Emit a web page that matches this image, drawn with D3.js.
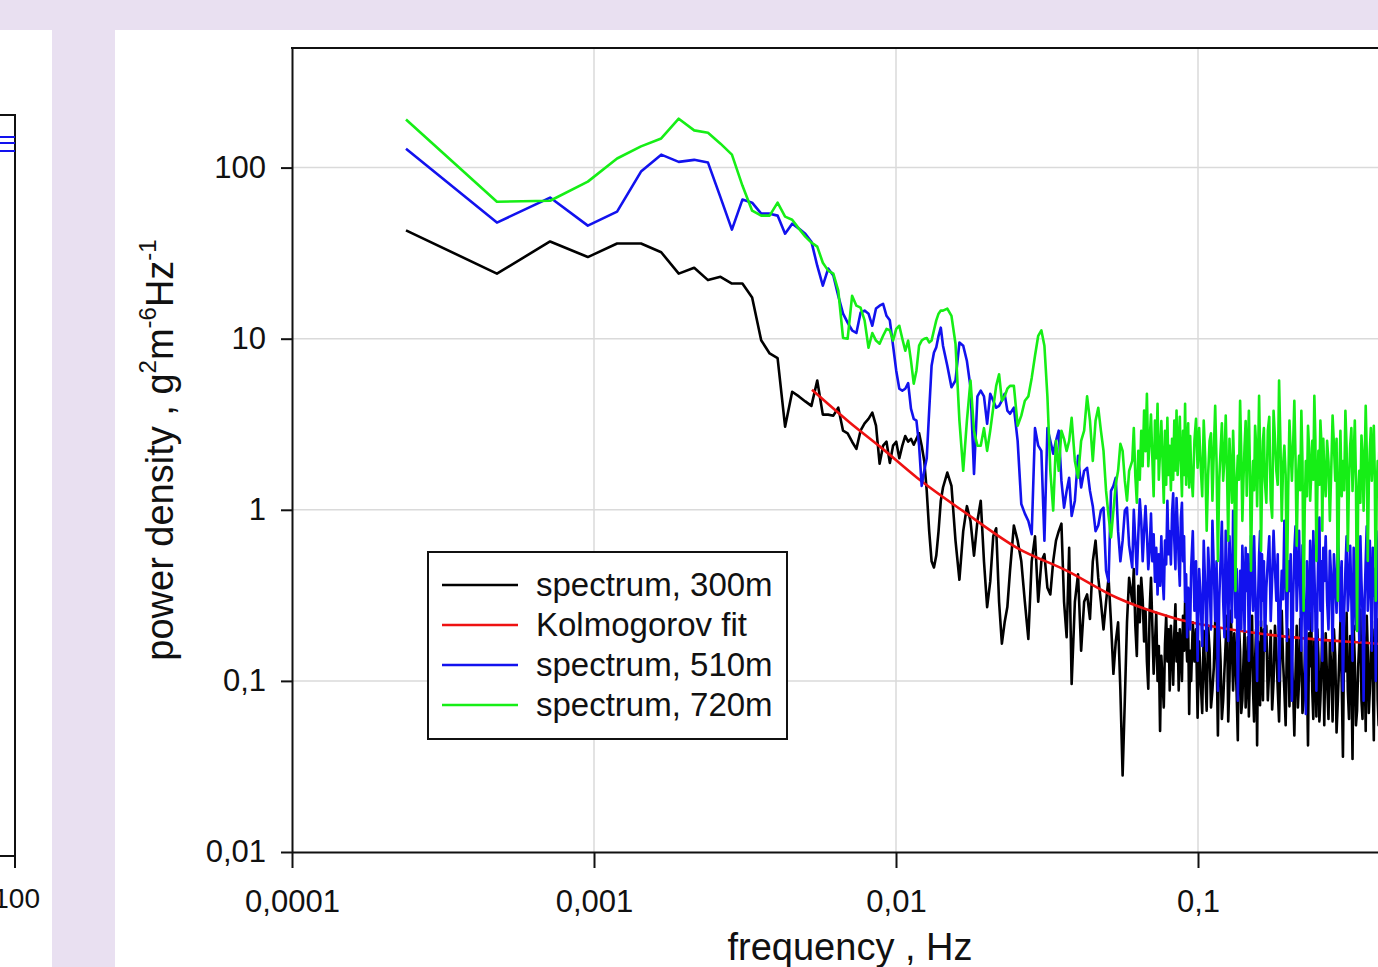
<!DOCTYPE html>
<html><head><meta charset="utf-8">
<script src="https://cdn.jsdelivr.net/npm/d3@7"></script>
<style>
html,body{margin:0;padding:0;background:#e9e0f1;}
svg{display:block;}
text{font-family:"Liberation Sans",Arial,Helvetica,sans-serif;fill:#111;}
</style>
</head><body><script>
// ---------------- DATA ----------------
const DF = 0.0002385; // spectral resolution, Hz (frequency = bin * DF)
const bins = [1,2,3,4,5,6,7,8,9,10,11,12,13,14,15,16,17,18,19,20,21,22,23,24,25,26,27,28,29,30,
31,32,33,34,35,36,37,38,39,40,41,42,43,44,45,46,47,48,49,50,51,52,53,54,55,56,57,58,59,60,
62,64,66,68,70,72,74,76,78,80,82,84,86,88,90,92,94,96,98,100,
103,106,109,112,115,118,121,124,127,130,133,136,139,142,145,148,151,154,157,160,
164,168,172,176,180,184,188,192,196,200,204,208,212,216,220,224,228,232,236,240,244,248,
254,257,260,263,266,269,272,275,278,281,284,287,290,293,296,299,302,305,308,311,314,317,320,323,326,329,332,335,338,341,344,347,350,353,356,359,362,365,368,371,374,377,380,383,386,389,392,395,398,
403,408,413,418,423,428,433,438,443,448,453,458,463,468,473,478,483,488,493,498,503,508,513,518,523,528,533,538,543,548,553,558,563,568,573,578,583,588,593,598,603,608,613,618,623,628,633,638,643,648,653,658,663,668,673,678,683,688,693,698,
706,714,722,730,738,746,754,762,770,778,786,794,802,810,818,826,834,842,850,858,866,874,882,890,898,906,914,922,930,938,946,954,962,970,978,986,994,1002,1010,1018,1026,1034,1042,1050,1058,1066,1074,1082,1090,1098,
1110,1122,1134,1146,1158,1170,1182,1194,1206,1218,1230,1242,1254,1266,1278,1290,1302,1314,1326,1338,1350,1362,1374,1386,1398,1410,1422,1434,1446,1458,1470,1482,1494,1506,1518,1530,1542,1554,1566,1578,1590,1602,1614,1626,1638,1650,1662,1674,1686,1698];

const spectrum300 = [43,24,37,30,36,36,32,24,26,22,23,21,21,17.4,9.8,8.2,7.7,3.06,4.9,4.6,
4.3,4.05,5.7,3.6,3.6,3.55,3.95,2.9,2.8,2.5,2.27,2.9,3.2,3.4,3.7,3.1,1.86,2.37,2.5,1.88,
2.37,2.5,2.0,2.37,2.7,2.5,2.6,2.4,2.6,2.8,2.37,1.93,1.29,0.75,0.50,0.46,0.54,0.75,1.13,1.35,
1.65,1.38,0.66,0.39,0.75,1.05,0.86,0.54,0.86,1.13,0.50,0.27,0.38,0.70,0.78,0.29,0.165,0.22,0.27,0.44,
0.81,0.66,0.50,0.29,0.176,0.50,0.70,0.29,0.50,0.55,0.35,0.32,0.50,0.66,0.75,0.83,0.29,0.18,0.60,0.096,
0.29,0.42,0.15,0.29,0.32,0.23,0.50,0.66,0.40,0.29,0.20,0.29,0.40,0.22,0.11,0.17,0.22,0.088,0.028,0.077,0.22,0.40,
0.29,0.45,0.21,0.14,0.36,0.22,0.40,0.30,0.17,0.26,0.13,0.09,0.26,0.40,0.21,0.11,0.165,0.25,0.10,0.16,0.051,0.14,0.10,0.07,0.165,0.24,0.13,0.20,0.088,0.21,0.15,0.095,0.19,0.28,0.13,0.19,0.088,0.20,0.15,0.10,0.24,0.15,0.29,0.18,0.13,0.21,0.064,0.15,0.10,
0.22,0.13,0.20,0.061,0.17,0.10,0.065,0.196,0.11,0.067,0.21,0.15,0.07,0.088,0.12,0.224,0.15,0.048,0.20,0.131,0.06,0.077,0.115,0.171,0.24,0.058,0.10,0.257,0.16,0.088,0.19,0.131,0.085,0.045,0.21,0.15,0.065,0.077,0.13,0.196,0.07,0.10,0.18,0.062,0.11,0.171,0.24,0.088,0.058,0.131,0.20,0.042,0.17,0.114,0.072,0.224,0.12,0.077,0.2,0.15,
0.21,0.077,0.12,0.196,0.068,0.10,0.21,0.15,0.09,0.058,0.14,0.257,0.13,0.088,0.055,0.171,0.20,0.071,0.18,0.131,0.09,0.048,0.11,0.21,0.07,0.10,0.23,0.15,0.065,0.077,0.13,0.224,0.11,0.042,0.19,0.122,0.25,0.088,0.06,0.171,0.14,0.062,0.2,0.14,0.058,0.077,0.12,0.196,0.15,0.055,
0.19,0.10,0.06,0.171,0.12,0.058,0.2,0.14,0.05,0.077,0.13,0.224,0.1,0.036,0.2,0.114,0.25,0.088,0.06,0.183,0.12,0.035,0.21,0.131,0.055,0.067,0.12,0.171,0.26,0.077,0.06,0.21,0.13,0.051,0.24,0.15,0.065,0.088,0.14,0.224,0.1,0.045,0.2,0.131,0.23,0.077,0.055,0.171,0.2,0.088];

const spectrum510 = [129,47.7,66.8,45.8,55.3,94.8,119,108,111,107,67,43.4,65,62.4,53.8,53.8,52.4,41.1,47,44,
41.1,36.9,26.7,20.4,25.7,23.4,17.8,14,12.4,11.2,10.8,14.2,14.6,14,11.9,15,15.6,16,13.6,12.8,
9.1,6.5,5.1,4.97,5.1,5.5,3.9,3.4,3.32,2.37,1.38,1.69,2.0,3.8,6.95,8.3,8.9,10.4,11.6,9.1,
6.95,5.2,5.7,9.5,9.1,7.4,5.2,1.62,4.6,4.97,4.6,3.18,4.76,4.34,3.95,4.05,4.34,4.76,3.8,3.64,
3.95,2.53,1.08,0.95,0.86,0.72,3.0,2.37,2.21,0.66,3.0,2.53,2.13,2.53,2.9,1.48,1.03,1.29,1.54,0.92,
1.13,2.07,1.35,1.69,1.76,1.29,1.05,0.75,0.81,0.99,1.03,0.44,0.38,1.29,1.38,1.54,0.75,0.50,0.66,0.99,1.03,0.62,
0.46,1.0,0.66,0.42,0.72,1.15,0.86,0.5,0.75,1.05,0.72,0.45,0.58,0.95,0.50,0.72,0.38,0.6,0.32,0.55,0.36,0.7,0.40,0.3,0.66,0.48,1.13,0.55,0.75,0.48,0.95,1.25,0.66,0.45,1.17,0.8,0.50,0.36,0.90,1.1,0.50,0.7,0.29,0.42,0.18,0.35,0.29,0.2,0.46,
0.75,0.257,0.5,0.131,0.45,0.294,0.16,0.659,0.35,0.15,0.6,0.384,0.2,0.862,0.45,0.224,0.5,0.0875,0.3,0.503,0.85,0.294,0.18,0.754,0.4,0.171,0.7,0.41,0.22,0.985,0.5,0.235,0.45,0.0765,0.25,0.44,0.2,0.616,0.38,0.196,0.6,0.336,0.55,0.131,0.3,0.705,0.42,0.257,0.7,0.384,0.22,0.10,0.3,0.54,0.75,0.21,0.55,0.294,0.5,0.15,
0.35,0.503,0.7,0.224,0.4,0.754,0.45,0.294,0.55,0.10,0.25,0.44,0.3,0.862,0.4,0.171,0.5,0.336,0.55,0.0765,0.3,0.576,0.8,0.257,0.42,0.754,0.35,0.15,0.62,0.384,0.2,0.064,0.5,0.294,0.2,0.659,0.45,0.196,0.75,0.44,0.25,0.0875,0.3,0.616,0.9,0.257,0.5,0.131,0.6,0.384,
0.7,0.294,0.2,0.576,0.4,0.15,0.55,0.384,0.25,0.754,0.42,0.224,0.5,0.0875,0.25,0.44,0.7,0.257,0.35,0.616,0.3,0.131,0.6,0.336,0.2,0.862,0.45,0.171,0.7,0.384,0.25,0.0765,0.3,0.503,0.8,0.257,0.4,0.659,0.3,0.15,0.6,0.315,0.45,0.10,0.3,0.503,0.75,0.224,0.5,0.294];

const spectrum720 = [191,63.2,64,82.8,113,133,148,193,165,160,138,119,78.5,56,52.4,52.4,62.4,51.7,49.6,44,
39.5,36.4,34.5,27.8,25,24,19.1,10.1,10,17.8,15.6,15.2,12.8,8.85,10.8,9.75,9.35,10.4,11.4,11.2,
9.75,11.4,11.9,10,8.5,9.75,7.44,5.46,6.5,9.1,9.75,10,10.1,9.5,9.75,11.2,12.8,14,14.6,14.6,
15,13.6,9.35,3.32,1.69,3.32,5.7,2.9,2.37,2.37,3.0,2.21,2.9,3.95,5.3,6.2,4.34,4.6,5.1,5.3,
5.3,3.1,3.55,4.34,4.6,5.9,7.95,10.4,11.2,9.1,4.6,1.69,0.99,2.53,1.69,2.9,2.6,2.21,2.53,3.45,
1.93,1.54,2.53,2.9,4.6,3.32,1.93,3.32,3.95,2.9,2.21,1.29,0.92,0.69,0.99,1.42,1.69,2.43,2.21,1.48,1.13,1.69,
1.93,3.0,1.58,1.1,2.21,1.5,2.9,1.8,3.8,2.2,4.76,1.8,2.53,3.6,2.0,1.2,3.32,2.0,4.17,1.5,2.21,3.3,1.93,1.1,2.9,1.4,3.45,1.6,2.37,1.3,2.6,1.5,3.32,1.7,3.8,1.6,2.37,3.5,1.86,1.2,2.9,1.6,4.17,1.4,2.21,3.2,1.35,2.7,1.69,
1.2,2.53,3.4,1.76,3.0,1.81,1.2,3.32,2.0,0.754,1.6,2.53,2.8,1.13,2.2,4.05,1.9,0.503,1.5,2.21,3.2,1.48,2.0,3.55,1.7,0.659,2.6,1.69,1.1,2.9,1.6,0.336,1.4,2.07,1.5,4.34,2.2,0.862,1.5,2.37,3.3,1.21,2.2,3.79,1.7,0.44,1.2,1.93,1.3,3.1,2.4,1.05,2.0,4.64,2.2,0.576,1.4,2.53,3.0,1.48,
1.1,2.9,3.5,1.13,0.9,3.79,2.6,1.69,1.4,5.69,2.5,0.862,1.8,2.37,1.6,0.336,1.3,3.32,2.2,1.48,2.4,4.34,2.0,0.616,1.5,2.07,1.3,3.79,1.9,0.257,1.0,1.93,1.2,3.1,2.3,1.13,1.6,2.53,1.5,4.64,2.6,0.503,1.3,2.21,1.4,3.32,2.5,0.754,2.6,1.69,
1.2,2.53,1.9,0.862,1.7,3.55,2.4,1.48,2.6,0.294,1.4,2.9,1.2,1.93,1.3,3.79,2.3,0.576,1.5,2.37,3.0,1.29,2.0,3.32,1.5,0.196,1.2,1.69,1.1,2.72,2.1,0.987,1.8,4.05,2.2,0.503,1.4,2.21,3.0,1.48,2.0,3.1,1.6,0.294,1.3,1.93,1.2,2.9,2.0,1.13];

const fitFreq = [0.00527,0.00704,0.00885,0.01174,0.01718,0.02515,0.03684,0.0539,0.0826,0.1642,0.3914,0.5];
const fitVal  = [5.03,3.23,2.34,1.54,0.947,0.60,0.44,0.306,0.234,0.188,0.165,0.16];

const xTickValues = [0.0001,0.001,0.01,0.1];
const xTickLabels = ["0,0001","0,001","0,01","0,1"];
const yTickValues = [100,10,1,0.1,0.01];
const yTickLabels = ["100","10","1","0,1","0,01"];

const seriesNames = ["spectrum, 300m","Kolmogorov fit","spectrum, 510m","spectrum, 720m"];
const seriesColors = ["#000000","#ee1111","#1212ee","#16ee16"];

[spectrum300, spectrum510, spectrum720].forEach((a, i) => {
  if (a.length !== bins.length) console.error("length mismatch", i, a.length, bins.length);
});

// ---------------- DRAWING ----------------
const W = 1378, H = 967;
const svg = d3.select("body").append("svg").attr("width", W).attr("height", H);
svg.append("rect").attr("width", W).attr("height", H).attr("fill", "#e9e0f1");
svg.append("rect").attr("x", 0).attr("y", 30).attr("width", 52).attr("height", H - 30).attr("fill", "#fff");
svg.append("rect").attr("x", 115).attr("y", 30).attr("width", W - 115).attr("height", H - 30).attr("fill", "#fff");

// fragment of neighbouring panel (cut by the page edge, as in the original)
const frag = svg.append("g");
frag.append("path").attr("d", "M0,115H15V868").attr("fill", "none").attr("stroke", "#111").attr("stroke-width", 2);
frag.append("path").attr("d", "M0,856H15").attr("stroke", "#111").attr("stroke-width", 2);
[137, 143, 151].forEach(yy => frag.append("path").attr("d", `M0,${yy}H15`).attr("stroke", "#1212ee").attr("stroke-width", 2));
frag.append("text").attr("x", 40).attr("y", 908).attr("text-anchor", "end").attr("font-size", 28).text("100");

const x = d3.scaleLog().domain([1e-4, 1]).range([292, 1500]);
const y = d3.scaleLog().domain([0.01, 500]).range([852, 48]);

// grid
const grid = svg.append("g").attr("stroke", "#dadada").attr("stroke-width", 1.5);
xTickValues.slice(1).forEach(v => grid.append("line").attr("x1", x(v)).attr("x2", x(v)).attr("y1", 48).attr("y2", 852));
yTickValues.slice(0, -1).forEach(v => grid.append("line").attr("x1", 292).attr("x2", 1500).attr("y1", y(v)).attr("y2", y(v)));

// clip
svg.append("clipPath").attr("id", "plotclip").append("rect")
  .attr("x", 292).attr("y", 48).attr("width", 1208).attr("height", 804);

const line = d3.line().x(d => x(d.f)).y(d => y(d.v));
const mk = arr => bins.map((k, i) => ({ f: k * DF, v: arr[i] }));
const plot = svg.append("g").attr("clip-path", "url(#plotclip)")
  .attr("fill", "none").attr("stroke-width", 2.6).attr("stroke-linejoin", "round");

plot.append("path").attr("d", line(mk(spectrum300))).attr("stroke", seriesColors[0]);
plot.append("path").attr("d", d3.line().x(d => x(d.f)).y(d => y(d.v)).curve(d3.curveMonotoneX)(fitFreq.map((f, i) => ({ f, v: fitVal[i] }))))
  .attr("stroke", seriesColors[1]);
plot.append("path").attr("d", line(mk(spectrum510))).attr("stroke", seriesColors[2]);
plot.append("path").attr("d", line(mk(spectrum720))).attr("stroke", seriesColors[3]);

// axes
const xAxis = d3.axisBottom(x).tickValues(xTickValues).tickFormat((d, i) => xTickLabels[i])
  .tickSize(16).tickSizeOuter(0).tickPadding(22);
const gx = svg.append("g").attr("transform", "translate(0,852)").call(xAxis);
const yAxis = d3.axisLeft(y).tickValues(yTickValues).tickFormat((d, i) => yTickLabels[i])
  .tickSize(11).tickSizeOuter(0).tickPadding(15);
const gy = svg.append("g").attr("transform", "translate(292,0)").call(yAxis);
[gx, gy].forEach(g => {
  g.attr("font-size", null).attr("font-family", null);
  g.selectAll("path,line").attr("stroke", "#111").attr("stroke-width", 2);
  g.selectAll("text").attr("font-size", 31).attr("fill", "#111");
});
svg.append("line").attr("x1", 291).attr("x2", 1500).attr("y1", 48).attr("y2", 48).attr("stroke", "#111").attr("stroke-width", 2);

// axis titles
svg.append("text").attr("x", 850).attr("y", 960).attr("text-anchor", "middle").attr("font-size", 38).text("frequency , Hz");
const yt = svg.append("text").attr("transform", "translate(173,450) rotate(-90)").attr("text-anchor", "middle").attr("font-size", 38);
yt.append("tspan").text("power density , g");
yt.append("tspan").attr("dy", -17).attr("font-size", 24).text("2");
yt.append("tspan").attr("dy", 17).text("m");
yt.append("tspan").attr("dy", -17).attr("font-size", 24).text("-6");
yt.append("tspan").attr("dy", 17).text("Hz");
yt.append("tspan").attr("dy", -17).attr("font-size", 24).text("-1");

// legend
const lg = svg.append("g");
lg.append("rect").attr("x", 428).attr("y", 552).attr("width", 359).attr("height", 187)
  .attr("fill", "#fff").attr("stroke", "#111").attr("stroke-width", 2);
seriesNames.forEach((name, i) => {
  const yy = 585 + i * 40;
  lg.append("line").attr("x1", 442).attr("x2", 518).attr("y1", yy).attr("y2", yy)
    .attr("stroke", seriesColors[i]).attr("stroke-width", 2.4);
  lg.append("text").attr("x", 536).attr("y", yy + 11).attr("font-size", 33).text(name);
});
</script></body></html>
